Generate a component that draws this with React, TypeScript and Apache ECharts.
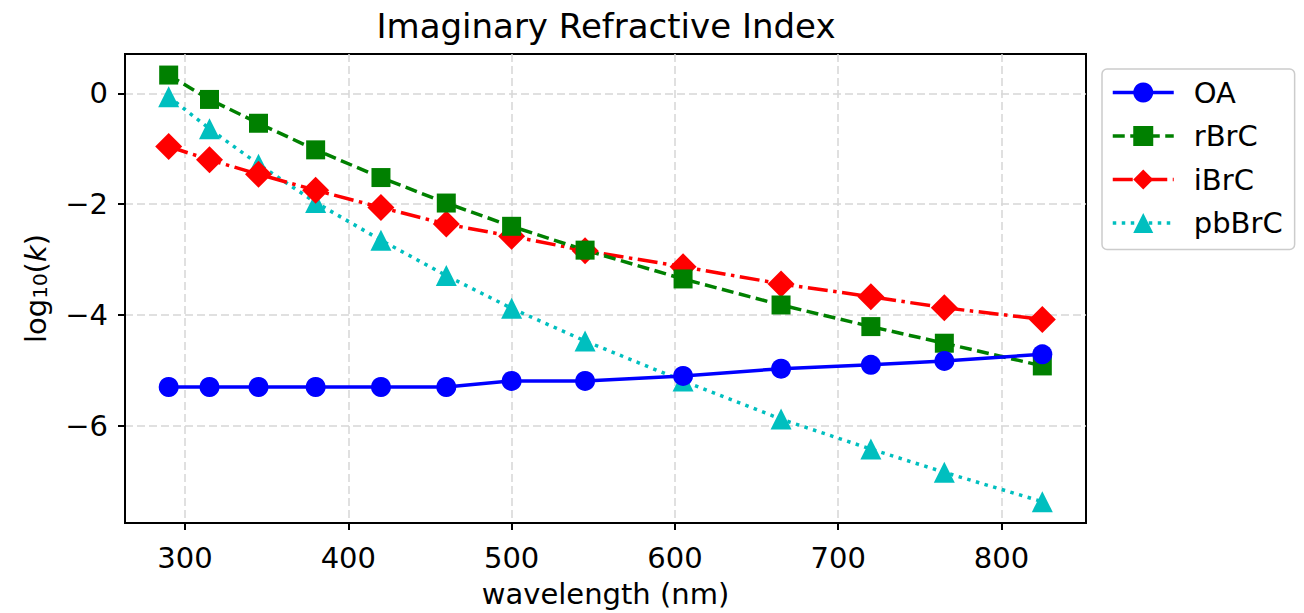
import React, { useEffect, useRef } from "react";
import * as echarts from "echarts";

const wavelengths = [290, 315, 345, 380, 420, 460, 500, 545, 605, 665, 720, 765, 825];
const oa = [-5.3, -5.3, -5.3, -5.3, -5.3, -5.3, -5.19, -5.19, -5.1, -4.97, -4.9, -4.83, -4.71];
const rbrc = [0.33, -0.11, -0.54, -1.02, -1.52, -1.98, -2.4, -2.83, -3.35, -3.82, -4.21, -4.51, -4.92];
const ibrc = [-0.96, -1.2, -1.46, -1.75, -2.06, -2.36, -2.58, -2.84, -3.13, -3.44, -3.67, -3.87, -4.08];
const pbbrc = [-0.06, -0.64, -1.28, -1.97, -2.65, -3.29, -3.88, -4.47, -5.19, -5.88, -6.42, -6.84, -7.37];
const xTicks = [300, 400, 500, 600, 700, 800];
const yTicks = [-6, -4, -2, 0];

const FONT = "DejaVu Sans";

export default function App() {
  const ref = useRef<HTMLDivElement>(null);
  useEffect(() => {
    if (!ref.current) return;
    const chart = echarts.init(ref.current, null, { renderer: "svg" });
    const pts = (ys: number[]) => wavelengths.map((x, i) => [x, ys[i]]);
    const gridLine = { show: true, lineStyle: { color: "#d6d6d6", width: 1.5, type: [8, 4] as any } };
    chart.setOption({
      animation: false,
      backgroundColor: "#fff",
      textStyle: { fontFamily: FONT },
      title: {
        text: "Imaginary Refractive Index",
        left: 606,
        top: 9,
        padding: 0,
        textAlign: "center",
        textStyle: { fontFamily: FONT, fontSize: 34, fontWeight: "normal", color: "#000" },
      },
      grid: {
        left: 125,
        right: 218,
        top: 54,
        bottom: 90,
        containLabel: false,
        outerBoundsMode: "none",
        show: true,
        borderColor: "#000",
        borderWidth: 2,
        backgroundColor: "transparent",
      },
      legend: {
        orient: "vertical",
        left: 1102,
        top: 69,
        data: ["OA", "rBrC", "iBrC", "pbBrC"],
        itemWidth: 61,
        itemHeight: 25,
        itemGap: 14.5,
        padding: [9, 12, 12, 9],
        backgroundColor: "#fff",
        borderColor: "#cccccc",
        borderWidth: 1.5,
        borderRadius: 5,
        lineStyle: { width: 3.5 },
        textStyle: { fontFamily: FONT, fontSize: 29, color: "#000", padding: [0, 0, 0, 15], lineHeight: 29 },
      },
      xAxis: {
        type: "value",
        min: 263.25,
        max: 851.75,
        name: "wavelength (nm)",
        nameLocation: "middle",
        nameGap: 56,
        nameTextStyle: { fontFamily: FONT, fontSize: 29, color: "#000" },
        axisLine: { show: true, onZero: false, lineStyle: { color: "#000", width: 2 } },
        axisTick: { show: true, inside: false, length: 7, customValues: xTicks, lineStyle: { color: "#000", width: 2 } },
        axisLabel: { customValues: xTicks, margin: 20, fontFamily: FONT, fontSize: 29, color: "#000" },
        splitLine: gridLine,
      },
      yAxis: {
        type: "value",
        min: -7.755,
        max: 0.71,
        splitNumber: 4,
        name: "{a|log}{s|10}{a|(}{i|k}{a|)}",
        nameLocation: "middle",
        nameRotate: 90,
        nameGap: 75,
        nameTextStyle: {
          fontFamily: FONT,
          color: "#000",
          rich: {
            a: { fontFamily: FONT, fontSize: 29, color: "#000", lineHeight: 36, verticalAlign: "bottom" },
            s: { fontFamily: FONT, fontSize: 20, color: "#000", lineHeight: 24, verticalAlign: "bottom" },
            i: { fontFamily: FONT, fontSize: 29, fontStyle: "italic", color: "#000", lineHeight: 36, verticalAlign: "bottom" },
          },
        },
        axisLine: { show: true, onZero: false, lineStyle: { color: "#000", width: 2 } },
        axisTick: { show: true, inside: false, length: 7, customValues: yTicks, lineStyle: { color: "#000", width: 2 } },
        axisLabel: {
          customValues: yTicks,
          margin: 17,
          fontFamily: FONT,
          fontSize: 29,
          color: "#000",
          formatter: (v: number) => (v < 0 ? "\u2212" + Math.abs(v) : String(v)),
        },
        splitLine: gridLine,
      },
      series: [
        {
          name: "pbBrC",
          type: "line",
          data: pts(pbbrc),
          symbol: "triangle",
          symbolSize: 21,
          itemStyle: { color: "#00bfbf" },
          lineStyle: { color: "#00bfbf", width: 3.5, type: [3.5, 5.5] },
        },
        {
          name: "iBrC",
          type: "line",
          data: pts(ibrc),
          symbol: "diamond",
          symbolSize: 27,
          itemStyle: { color: "#ff0000" },
          lineStyle: { color: "#ff0000", width: 3.5, type: [20, 5.5, 3.5, 5.5] },
        },
        {
          name: "rBrC",
          type: "line",
          data: pts(rbrc),
          symbol: "rect",
          symbolSize: 19,
          itemStyle: { color: "#008000" },
          lineStyle: { color: "#008000", width: 3.5, type: [12, 5.5] },
        },
        {
          name: "OA",
          type: "line",
          data: pts(oa),
          symbol: "circle",
          symbolSize: 20,
          itemStyle: { color: "#0000ff" },
          lineStyle: { color: "#0000ff", width: 3.5, type: "solid" },
        },
      ],
    });
    return () => chart.dispose();
  }, []);
  return <div ref={ref} style={{ position: "fixed", left: 0, top: 0, width: 1304, height: 613 }} />;
}
